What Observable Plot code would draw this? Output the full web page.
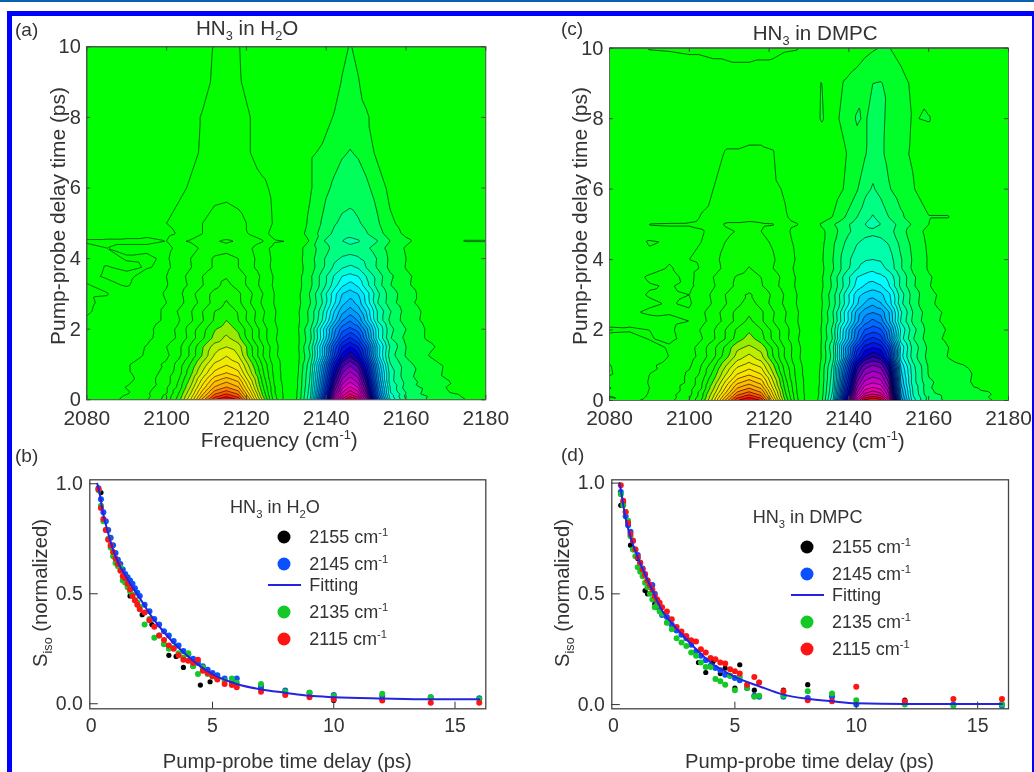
<!DOCTYPE html>
<html><head><meta charset="utf-8">
<script src="https://cdn.jsdelivr.net/npm/d3@7"></script>
<script src="https://cdn.jsdelivr.net/npm/@observablehq/plot@0.6"></script>
<style>
html,body{margin:0;padding:0;background:#fff;overflow:hidden;width:1034px;height:772px}
#root{position:relative;width:1034px;height:772px;font-family:"Liberation Sans",Arial,sans-serif;color:#333;filter:blur(.45px)}
.bar{position:absolute;left:0;top:0;width:1034px;height:2px;background:#0a5fb0}
.frame{position:absolute;left:7px;top:11px;width:1020px;height:780px;border:5px solid #00f;border-right-width:2px}
.t{position:absolute;white-space:nowrap;transform:translateY(-50%);line-height:1}
.t sub,.t sup{font-size:.62em;line-height:0}
.rot{transform:translate(-50%,-50%) rotate(-90deg)}
.dot{position:absolute;border-radius:50%;width:13px;height:13px;transform:translate(-50%,-50%)}
.ln{position:absolute;height:2px;background:#2424e0}
</style></head><body><div id="root"><div class="bar"></div><div class="frame"></div></div>
<script>
const freqs=[2080,2085,2090,2095,2100,2103,2106,2109,2112,2115,2118,2121,2124,2127,2130,2133,2136,2139,2142,2144,2146,2148,2150,2153,2156,2160,2165,2170,2175,2180];
const timesA=[0,.1,.2,.35,.5,.75,1,1.25,1.5,1.75,2,2.25,2.5,2.75,3,3.25,3.5,3.75,4,4.3,4.5,4.7,5,6,7,8,9,10];
const gridA=[
[-.4,-.7,-1.2,-1.9,-3.4,-5.5,-9,-13.5,-17,-18.3,-17,-12,-7,-2.5,-.5,1.3,5,14,23.5,27.5,29.5,28,23.5,13,6,3,2,1.4,1,.8],
[-.3,-.6,-1.1,-1.7,-3.3,-5.2,-8.4,-12.4,-15.6,-16.8,-15.6,-11,-6.2,-2.3,-.5,1.2,4.8,13,22,26,27.8,26.5,22,12.2,5.6,2.7,2.05,1.3,.9,.6],
[-.3,-.5,-.9,-1.8,-2.9,-4.9,-7.8,-11.5,-14.5,-15.6,-14.5,-10.3,-5.8,-2.1,-.5,1.2,4.6,12.4,21,25,26.6,25.3,21,11.6,5.1,3,1.7,1.05,.8,.5],
[-.3,-.4,-1.05,-1.5,-2.9,-4.3,-7.1,-10.4,-13.1,-14.1,-13.1,-9.3,-5.3,-2.1,-.5,1.1,4.4,11.7,20,23.7,25.2,24,20,11,5,2.5,1.8,1,.7,.4],
[-.2,-.4,-.8,-1.6,-2.5,-4.1,-6.5,-9.6,-12.1,-13,-12.1,-8.6,-4.9,-1.9,-.4,1.1,4.2,11.2,19,22.6,24,22.8,19,10.5,4.5,2.7,1.5,1.1,.6,.3],
[-.2,-.4,-.9,-1.3,-2.5,-3.5,-5.7,-8.2,-10.3,-11.1,-10.3,-7.3,-4.3,-1.7,-.4,1,4,10.4,17.6,21,22.3,21.2,17.6,9.8,4.6,2.3,1.6,.85,.5,.2],
[-.1,-.3,-.9,-1.5,-2.2,-3.4,-5.1,-7.3,-9.2,-9.9,-9.2,-6.5,-3.9,-1.6,-.4,.9,3.7,9.6,16.3,19.5,20.7,19.6,16.3,9,4.1,2.4,1.3,.9,.4,.2],
[-.1,-.2,-.6,-1.1,-1.8,-2.7,-4.2,-6.1,-8.1,-8.95,-8,-5.4,-3.1,-1.25,-.3,.8,3,7.9,14,17.4,18.85,17.4,14,7.5,3.5,1.9,1.05,.65,.3,.1],
[-.2,-.2,-.6,-1.05,-2,-2.7,-4.2,-5.9,-7.5,-8,-7.5,-5.3,-3.2,-1.35,-.3,.9,3.3,8,13.3,16,17,16,13.4,7.6,3.9,2,1.25,.7,.3,.1],
[-.4,-.2,-.35,-.75,-1.55,-2.15,-3.4,-4.8,-6.3,-7.25,-6.3,-4.3,-2.5,-1.15,-.3,.85,2.7,6.5,11.2,14,15.15,14,11.2,6.1,3.1,1.7,.95,.5,.2,.1],
[-.8,-.4,-.3,-.7,-1.6,-2.2,-3.5,-4.6,-5.9,-6.5,-5.8,-4.3,-2.5,-1.25,-.3,.95,2.9,6.6,10.6,12.6,13.3,12.6,10.5,6.1,3.3,2,.95,.5,.2,.1],
[-.9,-.5,-.25,-.5,-1.2,-1.9,-2.8,-3.9,-5.1,-6,-5,-3.5,-2.05,-1.05,-.3,.85,2.25,5,8.7,10.9,11.9,10.9,8.6,4.8,2.8,1.55,.75,.4,.15,.1],
[-1.1,-.7,-.3,-.5,-1.2,-2.1,-2.9,-4,-5,-5.5,-4.9,-3.6,-2.2,-1.1,-.3,.9,2.3,4.7,8,9.7,10.5,9.7,8,4.8,3.1,1.6,.8,.4,.2,.1],
[-1.15,-.8,-.35,-.45,-1,-1.65,-2.45,-3.35,-4.35,-5.1,-4.25,-3,-1.85,-.95,-.3,.75,1.95,3.95,6.8,8.6,9.5,8.6,6.8,3.95,2.45,1.3,.6,.3,.1,.1],
[-1.1,-1.05,-.5,-.5,-1.1,-1.7,-2.7,-3.5,-4.3,-4.7,-4.2,-3.2,-2.05,-1,-.3,.8,2.1,4.2,6.6,8,8.5,8,6.6,4.2,2.5,1.45,.6,.3,.1,.1],
[-1.05,-.75,-1.1,-.5,-.95,-1.45,-2.2,-2.95,-3.7,-4.3,-3.6,-2.65,-1.7,-.85,-.3,.7,1.75,3.4,5.5,6.8,7.4,6.8,5.4,3.4,2.05,1.15,.5,.2,.1,.05],
[-.8,-1.1,-1.2,-.7,-1,-1.6,-2.3,-3,-3.6,-3.9,-3.5,-2.7,-1.8,-.9,-.3,.7,1.8,3.4,5.1,6,6.3,6,5,3.5,2.2,1.2,.5,.2,.1,0],
[-.7,-1.05,-.85,-1.05,-.85,-1.3,-1.95,-2.55,-3.1,-3.55,-3,-2.25,-1.5,-.75,-.3,.65,1.5,2.8,4.2,4.9,5.25,4.9,4,2.85,1.75,.95,.4,.15,.05,0],
[-.7,-.8,-1.05,-1.1,-.9,-1.4,-2,-2.6,-3.1,-3.2,-3,-2.3,-1.5,-.8,-.3,.7,1.6,2.8,3.8,4.1,4.2,4.1,3.7,2.9,1.8,1,.4,.2,0,0],
[-.8,-1,-.9,-.9,-.8,-1.2,-1.6,-2.2,-2.7,-2.8,-2.6,-2.1,-1.4,-.7,-.2,.7,1.5,2.5,3.3,3.6,3.7,3.6,3.2,2.5,1.6,.9,.4,.2,.1,0],
[-1.1,-1.1,-1.1,-1.1,-1,-1.9,-2.1,-2.6,-2.95,-3.1,-2.95,-2.6,-2.1,-1.1,-1,.2,1.1,2.9,3.5,4,4.3,4.1,3.7,3,2,1.2,.5,.6,1.1,1.1],
[-.6,-.7,-.8,-.9,-.7,-1.1,-1.5,-2,-2.5,-2.6,-2.45,-1.9,-1.3,-.7,-.2,.6,1.4,2.4,3.2,3.6,3.7,3.5,3.1,2.4,1.5,.8,.3,.1,0,0],
[-.3,-.6,-.95,-.7,-1,-1.3,-1.7,-2,-2.25,-2.3,-2.2,-1.9,-1.5,-.9,-.3,.5,1.2,2.1,2.9,3.2,3.3,3.1,2.8,2.1,1.2,.6,.2,.1,0,0],
[0,-.1,-.2,-.3,-.6,-.8,-1.1,-1.5,-1.75,-1.8,-1.7,-1.5,-1.2,-.8,-.3,.3,.9,1.6,2.2,2.5,2.6,2.5,2.2,1.6,.7,.4,.1,0,0,0],
[0,0,-.1,-.2,-.3,-.5,-.8,-1.1,-1.4,-1.5,-1.4,-1,-.6,-.4,-.2,.2,.9,1.1,1.6,1.9,2.05,1.9,1.6,.7,.5,.2,0,0,0,0],
[0,0,0,-.1,-.2,-.4,-.8,-1.05,-1.2,-1.3,-1.2,-1,-.5,-.3,-.1,.1,.3,.7,1.05,1.4,1.6,1.3,1.1,.7,.3,.1,0,0,0,0],
[0,0,0,0,-.1,-.2,-.4,-.8,-1.1,-1.15,-1.1,-.7,-.4,-.2,-.1,0,.1,.3,.7,1.05,1.3,1.05,.7,.4,.2,0,0,0,0,0],
[0,0,0,0,-.1,-.2,-.3,-.7,-1.05,-1.1,-1.05,-.6,-.3,-.2,-.1,0,.1,.2,.5,.8,1.05,.8,.5,.3,.1,0,0,0,0,0]];
const timesC=[0,.1,.2,.35,.5,.75,1,1.25,1.5,1.75,2,2.25,2.5,2.75,3,3.25,3.5,3.75,4,4.5,4.8,5,5.2,6,7,8,9,10];
const gridC=[
[-.6,-.8,-1.2,-1.7,-3,-5,-8.5,-13,-17,-18.3,-17,-11.5,-6,-2.2,-.3,1.5,6,17,26,29.5,30.5,29.5,26,11,5.5,2.5,1.8,1.3,1.05,.9],
[-1.1,-.6,-1.1,-1.5,-2.9,-4.6,-8,-12,-15.6,-16.8,-15.5,-10.5,-5.5,-2.1,-.3,1.4,5.6,16,24.5,27.5,28.3,27.6,24.4,10.4,5.2,2.6,1.7,1.2,1,.7],
[-.7,-.5,-1.05,-1.6,-2.6,-4.5,-7.5,-11,-14.4,-15.5,-14.3,-9.8,-5.2,-2,-.3,1.3,5.3,15,23,26,26.7,26.1,23,10,5,2.2,1.6,1.15,1.05,.5],
[-1.05,-.4,-1,-1.3,-2.6,-3.9,-6.8,-10,-13,-14,-12.9,-8.9,-4.8,-1.9,-.3,1.3,5,14.3,22,24.6,25.2,24.7,22,9.5,4.9,2.1,1.5,1.1,.9,.4],
[-.6,-.5,-1.05,-1.35,-2.2,-3.8,-6.2,-9.2,-11.8,-12.7,-11.7,-8.2,-4.5,-1.8,-.3,1.2,4.8,13.6,21,23.4,24,23.6,21,9,4.5,2.2,1.4,1.05,.7,.3],
[-1.1,-.5,-1,-1.15,-2.2,-3.2,-5.3,-7.8,-10,-10.8,-10,-7.1,-3.9,-1.6,-.3,1.2,4.5,12.6,19.7,21.9,22.5,22.1,19.6,8.4,4.5,1.9,1.3,1.1,.5,.2],
[-1.05,-.3,-.9,-1.2,-1.8,-3,-4.6,-6.8,-8.7,-9.4,-8.7,-6.2,-3.5,-1.5,-.3,1.1,4.2,11.5,18.3,20.4,21,20.6,18,7.8,4.3,1.85,1.2,.95,.4,.1],
[-.4,-.25,-.6,-1.02,-1.5,-2.4,-3.7,-5.5,-7.4,-8.3,-7.3,-5,-2.85,-1.25,-.3,.95,3.5,9.6,15.6,18,18.9,18.2,15.3,6.5,3.5,1.6,.95,.6,.25,.1],
[-.5,-.4,-.6,-1.1,-1.6,-2.5,-3.7,-5.2,-6.8,-7.2,-6.7,-4.8,-2.9,-1.3,-.3,1,3.8,9.8,14.5,16.5,17,16.6,14.2,6.8,3.7,1.75,1,.5,.2,.1],
[-.7,-.6,-1.05,-.85,-1.25,-1.9,-2.85,-4,-5.45,-6.5,-5.4,-3.75,-2.35,-1.1,-.3,.9,3.1,7.8,12,14.6,15.3,14.6,11.6,5.5,3.1,1.4,.8,.3,.1,0],
[-1.15,-1.1,-1,-.9,-1.3,-2.1,-2.9,-4,-5.2,-5.8,-5.1,-3.7,-2.4,-1.2,-.3,1,3.3,7.6,11.6,13.1,13.6,13.2,11,5.9,3.4,1.55,.9,.3,.1,0],
[-.7,-.8,-.75,-.85,-1,-1.7,-2.4,-3.3,-4.3,-5.3,-4.2,-3,-2,-1.05,-.3,.85,2.8,6.1,9.7,11.5,12.3,11.6,9.3,4.9,2.8,1.3,.75,.2,0,0],
[-.6,-.9,-1.1,-1.05,-1.1,-1.8,-2.5,-3.4,-4.3,-4.8,-4.2,-3.1,-2.1,-1.1,-.3,.9,3,6.2,9.4,10.6,11,10.7,9.1,5.2,3,1.4,.8,.2,0,0],
[-.5,-.7,-.9,-1.05,-.9,-1.45,-2.1,-2.9,-3.75,-4.45,-3.65,-2.65,-1.8,-.95,-.3,.8,2.5,5.1,7.8,9.1,9.8,9.1,7.6,4.3,2.5,1.15,.65,.15,0,0],
[-.4,-.8,-1.05,-1.1,-1,-1.5,-2.2,-3,-3.8,-4.1,-3.7,-2.8,-1.9,-1,-.3,.9,2.6,5.2,7.6,8.3,8.6,8.3,7.3,4.5,2.6,1.2,.7,.2,0,0],
[-.3,-.75,-.95,-1.05,-.85,-1.25,-1.9,-2.55,-3.2,-3.7,-3.1,-2.35,-1.6,-.85,-.25,.75,2.2,4.3,6.4,7.1,7.55,7.1,6.1,3.75,2.15,1.05,.5,.15,0,0],
[-.3,-.7,-1.1,-1.2,-.8,-1.3,-2,-2.6,-3.1,-3.3,-3,-2.4,-1.7,-.9,-.2,.8,2.3,4.4,6,6.4,6.5,6.3,5.8,3.8,2.2,1.1,.5,.1,0,0],
[-.2,-.45,-.75,-1.05,-.8,-1.05,-1.65,-2.2,-2.65,-3.05,-2.6,-2,-1.4,-.8,-.2,.7,1.9,3.5,4.9,5.4,5.75,5.4,4.7,3.1,1.8,.9,.35,.1,0,0],
[-.2,-.4,-.7,-.95,-1,-1.1,-1.7,-2.3,-2.7,-2.8,-2.6,-2.1,-1.5,-.9,-.2,.8,2,3.5,4.6,4.9,5,4.9,4.5,3.1,1.9,.9,.4,.1,0,0],
[-.2,-.4,-1.1,-.9,-.9,-1,-1.5,-2,-2.3,-2.4,-2.2,-1.9,-1.3,-.8,-.2,.7,1.8,3,3.9,4.2,4.3,4.2,3.9,2.7,1.7,.8,.3,0,0,0],
[-.1,-.3,-.4,-.7,-.7,-.9,-1.3,-1.8,-2.05,-2.1,-2,-1.7,-1.2,-.7,-.2,.7,1.6,2.6,3.4,3.7,3.8,3.7,3.4,2.4,1.5,.7,.2,0,0,0],
[-.2,-.3,-1.05,-1.1,-1.1,-1.2,-1.4,-2.1,-2.1,-2.2,-2.1,-2.05,-1.3,-1.05,-.5,1.1,1.9,2.7,3.5,4,4.3,4,3.6,2.6,1.9,1,.4,.1,0,0],
[-.1,-.2,-.3,-.4,-.7,-1.05,-1.2,-1.5,-1.7,-1.7,-1.65,-1.4,-1.1,-.7,-.2,.3,1.05,2,3,3.6,4.1,3.6,3,2.2,1.5,1.05,1.05,.1,0,0],
[0,0,-.1,-.2,-.4,-.7,-1,-1.3,-1.4,-1.4,-1.4,-1.2,-.9,-.4,-.2,.1,.4,1.1,1.9,2.7,3.1,2.7,2.1,1.5,1.1,.3,0,0,0,0],
[0,0,0,-.1,-.2,-.4,-.7,-1.05,-1.05,-1.1,-1.1,-1.05,-.4,-.2,-.1,0,.3,.9,1.6,1.9,2.5,2.2,1.7,1.2,.9,.2,0,0,0,0],
[0,0,0,0,-.1,-.2,-.4,-.6,-.7,-.7,-.7,-.6,-.3,-.1,0,1.08,.7,1.3,2.1,1.9,2.3,2.3,1.7,1.3,.95,1.08,0,0,0,0],
[0,0,0,0,-.1,-.2,-.3,-.4,-.4,-.4,-.4,-.3,-.2,-.1,0,1.03,.5,1.1,1.5,1.8,2,2.05,1.8,1.4,.8,.2,0,0,0,0],
[0,-.2,-1.05,-1.1,-1.2,-1.2,-1.3,-1.3,-1.4,-1.4,-1.3,-1.3,-1.1,-1.05,-.6,-.1,0,.1,.4,.7,.9,1.05,1.05,.6,.3,.1,0,0,0,0]];
const levels=[-18,-17,-16,-15,-14,-13,-12,-11,-10,-9,-8,-7,-6,-5,-4,-3,-2,-1,1,2,3,4,5,6,7,8,9,10,11,12,13,14,15,16,17,18,19,20,21,22,23,24,25,26,27,28,29];
const colorStops=[-18,-14,-11,-9,-7,-6,-1,1,2,4,6,9,13,17,18,21,24,27,29];
const colorRange=["#ff0000","#ffaa00","#ffe100","#e1f000","#96eb00","#14fa00","#00ff00","#00ff28","#00ff5a","#00ffaa","#00ffff","#00b4ff","#0050ff","#0000dc","#1400aa","#9000c0","#e000c8","#e60078","#ff0000"];

const delayTimes=[.3,.4,.5,.6,.7,.8,.9,1,1.1,1.2,1.3,1.4,1.5,1.6,1.7,1.8,1.9,2,2.2,2.4,2.6,2.8,3,3.2,3.4,3.6,3.8,4,4.2,4.4,4.6,4.8,5,5.2,5.5,5.8,6,7,8,9,10,12,14,16];
const bBlue=[.98,.93,.87,.83,.79,.755,.72,.685,.655,.635,.61,.59,.575,.56,.545,.525,.505,.49,.45,.42,.385,.36,.33,.31,.285,.265,.24,.225,.205,.185,.17,.155,.14,.13,.115,.1,.115,.08,.06,.05,.04,.035,.03,.025];
const bGreen=[.97,.9,.83,.79,.75,.71,.67,.64,.625,.62,.56,.55,.53,.51,.495,.47,.46,.44,.36,.385,.3,.31,.27,.25,.255,.23,.21,.23,.17,.135,.165,.135,.125,.115,.105,.115,.095,.09,.055,.05,.035,.045,.03,.02];
const bRed=[.975,.89,.84,.79,.745,.72,.69,.66,.635,.605,.58,.57,.545,.52,.49,.47,.45,.43,.415,.38,.35,.31,.29,.265,.25,.22,.2,.195,.185,.2,.15,.14,.125,.11,.09,.085,.075,.055,.04,.03,.02,.015,.005,.005];
const bBlackT=[.4,.8,1,1.3,1.6,2.1,2.5,3,3.2,3.5,3.8,4.2,4.5,4.9,5.2,7,8,10,12];
const bBlack=[.96,.72,.66,.58,.49,.405,.36,.27,.22,.215,.165,.17,.085,.1,.115,.07,.05,.015,.02];
const dBlue=[.96,.91,.85,.81,.78,.74,.7,.675,.64,.615,.59,.56,.535,.54,.5,.46,.43,.405,.395,.36,.335,.315,.3,.27,.24,.22,.2,.175,.165,.155,.135,.13,.12,.11,.075,.04,.035,.035,.03,.035,0,.005,0,-.005];
const dGreen=[.95,.9,.87,.83,.76,.7,.67,.62,.6,.58,.55,.53,.5,.475,.44,.45,.42,.41,.37,.34,.3,.28,.265,.235,.22,.19,.17,.17,.115,.105,.09,.13,.065,.125,.075,.035,.04,.04,.06,.05,.02,0,-.005,0];
const dRed=[.99,.92,.87,.82,.77,.74,.7,.665,.64,.61,.585,.56,.54,.52,.49,.475,.46,.44,.42,.385,.35,.33,.31,.29,.285,.25,.235,.21,.205,.19,.185,.16,.15,.14,.09,.125,.1,.06,.02,.015,.08,.015,.025,.025];
const dBlackT=[.3,.7,.8,1,1.3,1.4,1.7,1.8,2.2,3.5,3.8,4.1,4.4,4.6,5,5.2,5.8,6,7,8,9,12,16];
const dBlack=[.9,.72,.7,.66,.515,.5,.455,.44,.37,.19,.145,.195,.14,.165,.075,.18,.065,.1,.065,.09,.04,.02,.005];
const fitT=[.25,.3,.5,.75,1,1.5,2,2.5,3,3.5,4,4.5,5,6,7,8,9,10,12,14,16];
const bFit=[1,.98,.86,.755,.67,.565,.48,.395,.325,.265,.215,.17,.135,.09,.065,.05,.036,.03,.024,.02,.02];
const dFit=[1,.97,.84,.74,.665,.54,.425,.355,.295,.24,.19,.155,.125,.083,.045,.026,.015,.006,.003,.003,.003];
const seriesNames=["2155","2145","2135","2115"];
const seriesColors=["#000000","#0a50ff","#14c828","#ff1414"];
const fitColor="#2424e0";
const freqTicks=[2080,2100,2120,2140,2160,2180];
const delayTicks=[0,2,4,6,8,10];
const timeTicks=[0,5,10,15];
const signalTicks=[0,.5,1];

const root=document.getElementById("root");
const ink="#333";
function place(svgBox,box,opts){
  return Plot.plot({
    width:svgBox.w,height:svgBox.h,
    marginLeft:box.l-svgBox.x,marginRight:svgBox.x+svgBox.w-box.r,
    marginTop:box.t-svgBox.y,marginBottom:svgBox.y+svgBox.h-box.b,
    style:{position:"absolute",left:svgBox.x+"px",top:svgBox.y+"px",background:"transparent",overflow:"visible",fontFamily:"'Liberation Sans',Arial,sans-serif"},
    ...opts});
}
function contourPanel(svgBox,box,times,grid){
  const pts=times.flatMap((t,i)=>freqs.map((f,j)=>({f,t,v:grid[i][j]})));
  root.appendChild(place(svgBox,box,{
    x:{domain:[2080,2180]},y:{domain:[0,10]},
    color:{type:"linear",domain:colorStops,range:colorRange,clamp:true},
    marks:[
      Plot.contour(pts,{x:"f",y:"t",value:"v",fill:"value",stroke:"#000",strokeWidth:.9,strokeOpacity:.7,thresholds:levels,interpolate:"barycentric",pixelSize:1,clip:true}),
      Plot.frame({stroke:"#666",strokeWidth:1}),
      Plot.ruleX(freqTicks,{x:d=>d,y1:0,y2:.12,stroke:"#444"}),
      Plot.ruleX(freqTicks,{x:d=>d,y1:9.88,y2:10,stroke:"#444"}),
      Plot.ruleY(delayTicks,{y:d=>d,x1:2080,x2:2081,stroke:"#444"}),
      Plot.ruleY(delayTicks,{y:d=>d,x1:2179,x2:2180,stroke:"#444"}),
      Plot.axisX({ticks:freqTicks,tickFormat:"d",tickSize:0,tickPadding:10,fontSize:21,color:ink,label:null}),
      Plot.axisY({ticks:delayTicks,tickFormat:"d",tickSize:0,tickPadding:6,fontSize:20,color:ink,label:null})
    ]}));
}
function decayPanel(svgBox,box,xDom,yDom,blue,green,red,blackT,black,fit){
  const tbl=(ts,vs)=>ts.map((t,i)=>({t,v:vs[i]}));
  const dots=(ts,vs,fill,r)=>Plot.dot(tbl(ts,vs),{x:"t",y:"v",fill,r});
  root.appendChild(place(svgBox,box,{
    x:{domain:xDom},y:{domain:yDom},
    marks:[
      dots(blackT,black,seriesColors[0],2.6),
      dots(delayTimes,blue,seriesColors[1],3),
      dots(delayTimes,green,seriesColors[2],3),
      dots(delayTimes,red,seriesColors[3],3),
      Plot.line(tbl(fitT,fit),{x:"t",y:"v",stroke:fitColor,strokeWidth:2,curve:"monotone-x"}),
      Plot.frame({stroke:"#444",strokeWidth:1.3}),
      Plot.ruleX(timeTicks.slice(1),{x:d=>d,y1:yDom[0],y2:yDom[0]+.03,stroke:"#333"}),
      Plot.ruleY(signalTicks,{y:d=>d,x1:xDom[0],x2:xDom[0]+.35,stroke:"#333"}),
      Plot.axisX({ticks:timeTicks,tickFormat:"d",tickSize:0,tickPadding:9,fontSize:19.5,color:ink,label:null}),
      Plot.axisY({ticks:signalTicks,tickFormat:".1f",tickSize:0,tickPadding:7,fontSize:19.5,color:ink,label:null})
    ]}));
}
contourPanel({x:10,y:16,w:515,h:430},{l:86.3,r:485.3,t:46.3,b:399.3},timesA,gridA);
contourPanel({x:530,y:16,w:504,h:430},{l:609,r:1008,t:47.7,b:400},timesC,gridC);
decayPanel({x:10,y:465,w:515,h:280},{l:89.3,r:485.3,t:479.3,b:708.3},[-.06,16.27],[-.023,1.018],bBlue,bGreen,bRed,bBlackT,bBlack,bFit);
decayPanel({x:530,y:465,w:504,h:280},{l:611.3,r:1008,t:479.3,b:708.3},[-.07,16.27],[-.019,1.015],dBlue,dGreen,dRed,dBlackT,dBlack,dFit);

function text(html,x,y,size,cls){
  const e=document.createElement("div");
  e.className="t "+(cls||"");e.innerHTML=html;
  e.style.left=x+"px";e.style.top=y+"px";e.style.fontSize=size+"px";
  root.appendChild(e);return e;
}
const HN3w="HN<sub>3</sub> in H<sub>2</sub>O", HN3d="HN<sub>3</sub> in DMPC";
text("(a)",15,29,19);text("(c)",561,28,19);text("(b)",15,455,19);text("(d)",561,454,19);
text(HN3w,196,28,20.6);text(HN3d,752.7,33,20.6);
text("Frequency (cm<sup>-1</sup>)",200.7,440,20.8);text("Frequency (cm<sup>-1</sup>)",747.7,441,20.8);
text("Pump-probe delay time (ps)",57.5,216,20.9,"rot");text("Pump-probe delay time (ps)",579.5,216,20.9,"rot");
text("S<sub>iso</sub> (normalized)",40,593,20.3,"rot");text("S<sub>iso</sub> (normalized)",562,593,20.3,"rot");
text("Pump-probe time delay (ps)",162.7,761,20.2);text("Pump-probe time delay (ps)",685,761,20.2);

function legend(title,tx,ty,dx,lx,ys,lineY){
  text(title,tx,ty,18.1);
  seriesNames.forEach((n,i)=>{
    const d=document.createElement("div");d.className="dot";
    d.style.left=dx+"px";d.style.top=ys[i]+"px";d.style.background=seriesColors[i];root.appendChild(d);
    text(n+" cm<sup>-1</sup>",lx,ys[i],18);
  });
  const l=document.createElement("div");l.className="ln";
  l.style.left=(dx-16)+"px";l.style.width="33px";l.style.top=(lineY-1)+"px";root.appendChild(l);
  text("Fitting",lx,lineY,18);
}
legend(HN3w,230,507,284.3,309.3,[537.3,564.3,611.7,639.3],584.7);
legend(HN3d,752.7,517,807,832,[547.3,574.3,621.7,649],594.7);
</script></body></html>
